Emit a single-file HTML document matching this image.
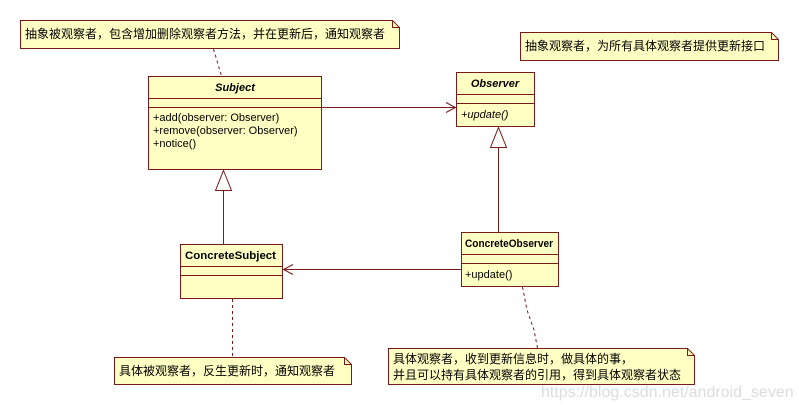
<!DOCTYPE html>
<html><head><meta charset="utf-8"><style>
html,body{margin:0;padding:0;background:#fff;width:799px;height:405px;overflow:hidden}
text{font-family:"Liberation Sans","Noto Sans CJK SC",sans-serif;font-size:11px;fill:#000}
.cj{font-size:12px}
</style></head><body>
<svg width="799" height="405" viewBox="0 0 799 405" xmlns="http://www.w3.org/2000/svg">
<g stroke="#7a1a1a" stroke-width="1" fill="#ffffc4">
<path d="M20.5,20.5 H392.5 L399.5,27.5 V48.5 H20.5 Z"/>
<path d="M392.5,20.5 V27.5 H399.5" fill="none"/>
<path d="M520.5,32.5 H771.5 L778.5,39.5 V60.5 H520.5 Z"/>
<path d="M771.5,32.5 V39.5 H778.5" fill="none"/>
<path d="M114.5,357.5 H344.5 L351.5,364.5 V384.5 H114.5 Z"/>
<path d="M344.5,357.5 V364.5 H351.5" fill="none"/>
<path d="M388.5,348.5 H687.5 L694.5,355.5 V384.5 H388.5 Z"/>
<path d="M687.5,348.5 V355.5 H694.5" fill="none"/>
<rect x="148.5" y="76.5" width="173" height="93"/>
<line x1="148.5" y1="98.5" x2="321.5" y2="98.5"/>
<line x1="148.5" y1="107.5" x2="321.5" y2="107.5"/>
<rect x="456.5" y="72.5" width="78" height="54"/>
<line x1="456.5" y1="94.5" x2="534.5" y2="94.5"/>
<line x1="456.5" y1="103.5" x2="534.5" y2="103.5"/>
<rect x="180.5" y="244.5" width="102" height="54"/>
<line x1="180.5" y1="266.5" x2="282.5" y2="266.5"/>
<line x1="180.5" y1="275.5" x2="282.5" y2="275.5"/>
<rect x="461.5" y="232.5" width="97" height="54"/>
<line x1="461.5" y1="254.5" x2="558.5" y2="254.5"/>
<line x1="461.5" y1="263.5" x2="558.5" y2="263.5"/>
</g>
<g stroke="#7a1a1a" stroke-width="1" fill="none">
<line x1="321.5" y1="107.5" x2="455.5" y2="107.5"/>
<path d="M446,102.5 L455.5,107.5 L446,112.5"/>
<line x1="461" y1="269.5" x2="283.5" y2="269.5"/>
<path d="M293,264.5 L283.5,269.5 L293,274.5"/>
<path d="M223.5,170.5 L231.5,190.5 L215.5,190.5 Z" fill="#fff"/>
<line x1="223.5" y1="190.5" x2="223.5" y2="244"/>
<path d="M498.5,127.5 L506.5,147.5 L490.5,147.5 Z" fill="#fff"/>
<line x1="498.5" y1="147.5" x2="498.5" y2="232"/>
<g stroke-dasharray="3,3">
<line x1="213.5" y1="49" x2="221.5" y2="76"/>
<line x1="232.5" y1="299" x2="232.5" y2="357"/>
<path d="M522.5,287 L527,310 L534,330 L537.5,348"/>
</g>
</g>
<text class="cj" x="25" y="38">抽象被观察者，包含增加删除观察者方法，并在更新后，通知观察者</text>
<text class="cj" x="525" y="50">抽象观察者，为所有具体观察者提供更新接口</text>
<text class="cj" x="119" y="375">具体被观察者，反生更新时，通知观察者</text>
<text class="cj" x="393" y="363">具体观察者，收到更新信息时，做具体的事，</text>
<text class="cj" x="393" y="379">并且可以持有具体观察者的引用，得到具体观察者状态</text>
<text x="235" y="91" text-anchor="middle" font-weight="bold" font-style="italic">Subject</text>
<text x="153" y="121">+add(observer: Observer)</text>
<text x="153" y="134">+remove(observer: Observer)</text>
<text x="153" y="147">+notice()</text>
<text x="495" y="87" text-anchor="middle" font-weight="bold" font-style="italic">Observer</text>
<text x="461" y="118" font-style="italic">+update()</text>
<text x="185" y="259" font-weight="bold" textLength="91" lengthAdjust="spacingAndGlyphs">ConcreteSubject</text>
<text x="465" y="247" font-weight="bold" textLength="88" lengthAdjust="spacingAndGlyphs">ConcreteObserver</text>
<text x="465" y="278">+update()</text>
<text x="541" y="397" style="font-size:16px;fill:#dcdcdc">https://blog.csdn.net/android_seven</text>
</svg>
</body></html>
